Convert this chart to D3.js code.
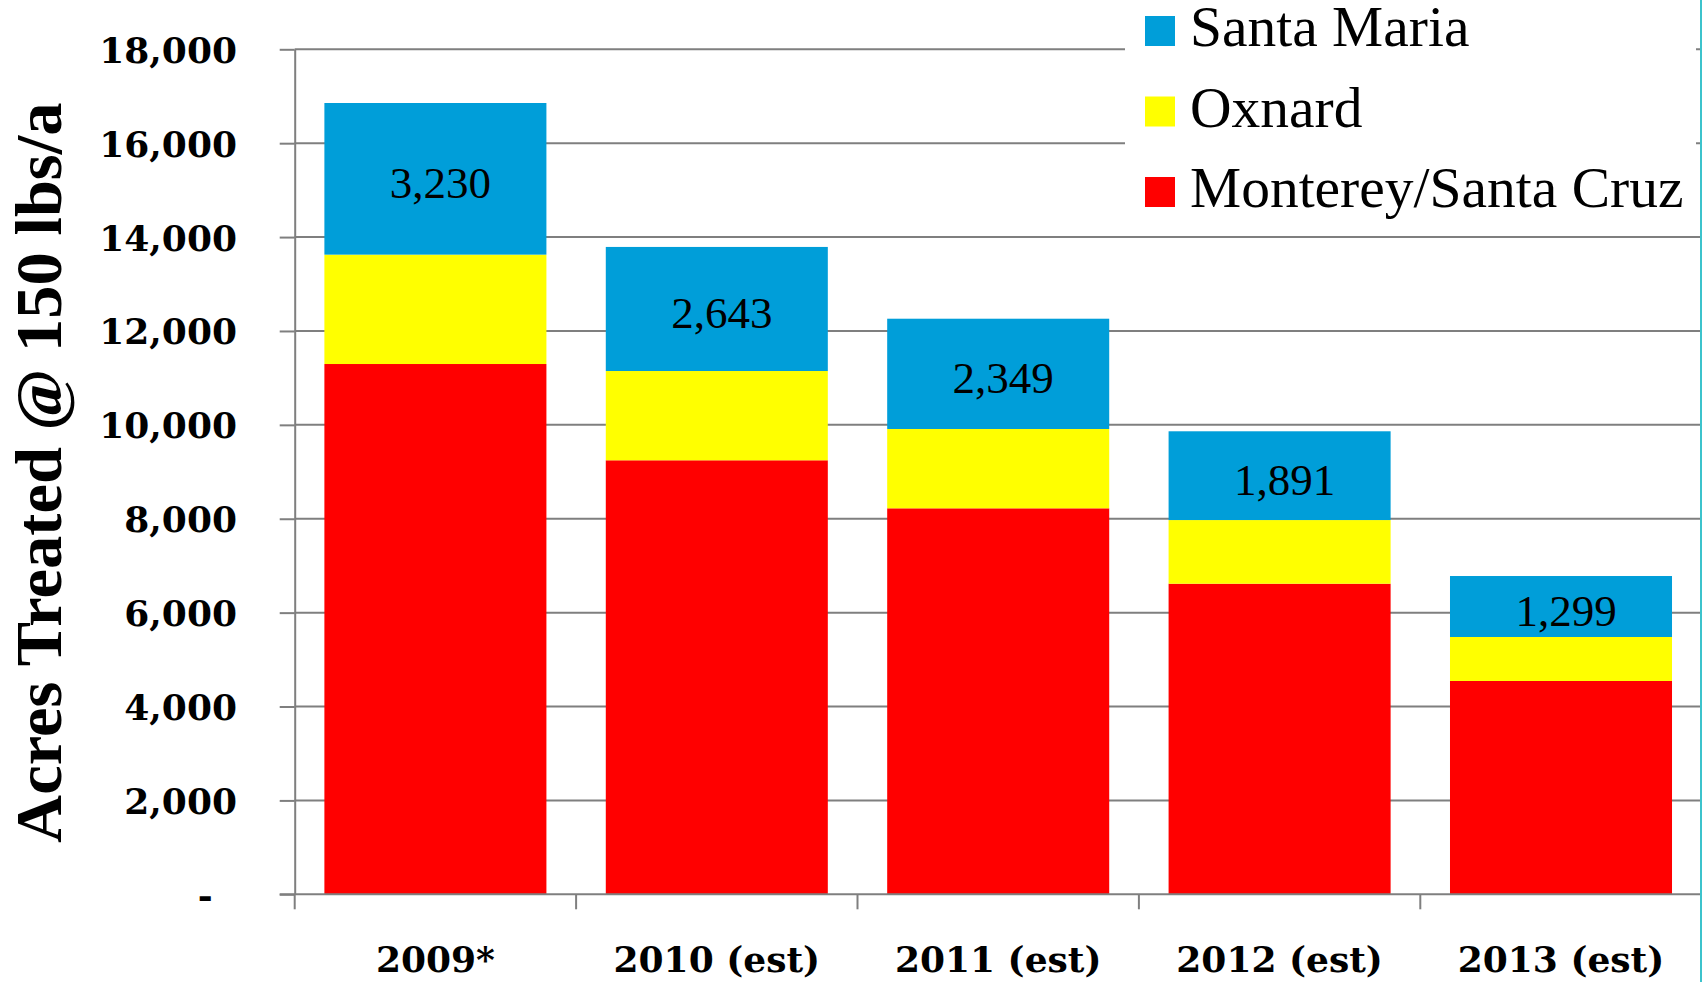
<!DOCTYPE html>
<html>
<head>
<meta charset="utf-8">
<script src="https://cdn.jsdelivr.net/npm/d3@7"></script>
<style>
  html, body { margin: 0; padding: 0; background: #fff; }
  svg { display: block; }
</style>
</head>
<body>
<svg id="chart" width="1702" height="982"></svg>
<script>
// ---- data ----
const categories = ["2009*", "2010 (est)", "2011 (est)", "2012 (est)", "2013 (est)"];
const seriesNames = ["Monterey/Santa Cruz", "Oxnard", "Santa Maria"];
const montereySantaCruz = [11296, 9245, 8222, 6616, 4544];
const oxnard = [2330, 1902, 1690, 1356, 937];
const santaMaria = [3230, 2643, 2349, 1891, 1299];
const yTicks = [0, 2000, 4000, 6000, 8000, 10000, 12000, 14000, 16000, 18000];
const yTitle = "Acres Treated @ 150 lbs/a";

// ---- style ----
const colors = { "Monterey/Santa Cruz": "#FF0000", "Oxnard": "#FFFF00", "Santa Maria": "#009ED9" };
const gridColor = "#7f7f7f";
const serif = "'Liberation Serif', 'Times New Roman', serif";
const serifWide = "'DejaVu Serif', serif";

const svg = d3.select("#chart");
const plotLeft = 294.7, plotRight = 1701.7, plotTop = 49.3, plotBottom = 894.3, gridRight = 1700;

const x = d3.scaleBand().domain(categories).range([plotLeft, plotRight]).paddingInner(0.211).paddingOuter(0.1055);
const y = d3.scaleLinear().domain([0, 18000]).range([plotBottom, plotTop]);

const rows = categories.map((c, i) => ({
  cat: c,
  "Monterey/Santa Cruz": montereySantaCruz[i],
  "Oxnard": oxnard[i],
  "Santa Maria": santaMaria[i]
}));
const stacked = d3.stack().keys(seriesNames)(rows);

// gridlines
svg.append("g").selectAll("line").data(yTicks.filter(d => d > 0)).join("line")
  .attr("x1", plotLeft).attr("x2", gridRight)
  .attr("y1", d => y(d)).attr("y2", d => y(d))
  .attr("stroke", gridColor).attr("stroke-width", 2);

// bars
svg.append("g").selectAll("g").data(stacked).join("g")
  .attr("fill", d => colors[d.key])
  .selectAll("rect").data(d => d).join("rect")
  .attr("x", d => x(d.data.cat))
  .attr("width", x.bandwidth())
  .attr("y", d => y(d[1]))
  .attr("height", d => y(d[0]) - y(d[1]));

// data labels (Santa Maria)
const sm = stacked[2];
svg.append("g").selectAll("text").data(sm).join("text")
  .attr("x", d => x(d.data.cat) + x.bandwidth() / 2 + 5)
  .attr("y", d => (y(d[0]) + y(d[1])) / 2 + 19)
  .attr("text-anchor", "middle")
  .attr("font-family", serif).attr("font-size", 45).attr("fill", "#000")
  .text(d => d3.format(",")(d.data["Santa Maria"]));

// y axis
const yAxis = d3.axisLeft(y).tickValues(yTicks).tickSize(15).tickSizeOuter(0).tickPadding(42.7)
  .tickFormat(d => d === 0 ? "-" : d3.format(",")(d));
const gy = svg.append("g").attr("transform", `translate(${plotLeft},0)`).call(yAxis);
gy.select(".domain").attr("stroke", gridColor).attr("stroke-width", 2);
gy.selectAll(".tick line").attr("stroke", gridColor).attr("stroke-width", 2);
gy.selectAll(".tick text")
  .attr("font-family", serifWide).attr("font-weight", "bold").attr("font-size", 36)
  .attr("fill", "#000").attr("dy", null).attr("y", 13)
  .filter(d => d === 0).attr("x", -82);

// x axis
const gx = svg.append("g");
gx.append("line").attr("x1", plotLeft - 15).attr("x2", gridRight).attr("y1", plotBottom).attr("y2", plotBottom)
  .attr("stroke", gridColor).attr("stroke-width", 2);
const bounds = categories.map(c => x(c) - (x.step() - x.bandwidth()) / 2);
gx.selectAll(".xt").data(bounds).join("line").attr("class", "xt")
  .attr("x1", d => d).attr("x2", d => d).attr("y1", plotBottom).attr("y2", plotBottom + 15)
  .attr("stroke", gridColor).attr("stroke-width", 2);
gx.selectAll("text").data(categories).join("text")
  .attr("x", d => x(d) + x.bandwidth() / 2)
  .attr("y", 972)
  .attr("text-anchor", "middle")
  .attr("font-family", serifWide).attr("font-weight", "bold").attr("font-size", 36).attr("fill", "#000")
  .text(d => d);

// y title
svg.append("text")
  .attr("transform", "translate(61,472.7) rotate(-90)")
  .attr("text-anchor", "middle")
  .attr("font-family", serif).attr("font-weight", "bold").attr("font-size", 66.5).attr("fill", "#000")
  .text(yTitle);

// legend
const lg = svg.append("g");
lg.append("rect").attr("x", 1125).attr("y", 0).attr("width", 571).attr("height", 226).attr("fill", "#fff");
const legendOrder = ["Santa Maria", "Oxnard", "Monterey/Santa Cruz"];
const li = lg.selectAll("g").data(legendOrder).join("g")
  .attr("transform", (d, i) => `translate(1145,${46 + i * 80.5})`);
li.append("rect").attr("x", 0).attr("y", -30).attr("width", 30).attr("height", 30).attr("fill", d => colors[d]);
li.append("text").attr("x", 45).attr("y", 0)
  .attr("font-family", serif).attr("font-size", 57.5).attr("fill", "#000").text(d => d);

// right edge line
svg.append("line").attr("x1", 1701).attr("x2", 1701).attr("y1", 0).attr("y2", 982)
  .attr("stroke", "#3cc3cc").attr("stroke-width", 2);
</script>
</body>
</html>
